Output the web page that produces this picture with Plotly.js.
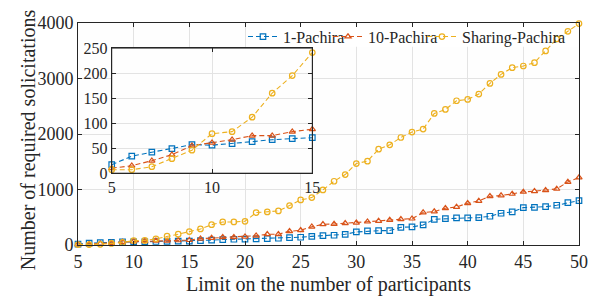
<!DOCTYPE html>
<html>
<head>
<meta charset="utf-8">
<script src="https://cdn.plot.ly/plotly-3.0.1.min.js"></script>
<style>
  html, body { margin: 0; padding: 0; background: #ffffff; }
  #chart { width: 603px; height: 299px; }
</style>
</head>
<body>
<div id="chart"></div>
<script>
// ---- data ----
const participants = [5,6,7,8,9,10,11,12,13,14,15,16,17,18,19,20,21,22,23,24,25,26,27,28,29,30,
                      31,32,33,34,35,36,37,38,39,40,41,42,43,44,45,46,47,48,49,50];

const onePachira = [17,34,42,49,57,56,59,63,67,69,71,78,88,98,104,106,110,115,122,132,140,156,168,176,193,235,
                    253,258,260,319,325,361,463,475,487,489,493,518,572,596,673,679,691,716,764,800];

const tenPachira = [10,15,25,37,55,61,67,75,75,83,88,114,126,139,140,150,168,193,195,247,265,330,373,379,391,400,
                    421,433,451,463,475,584,602,662,686,752,794,879,891,921,957,969,987,1011,1137,1215];

const sharingPachira = [7,7,13,29,46,79,83,112,160,195,241,289,367,415,415,427,584,596,614,710,812,854,993,1149,1269,1468,
                        1511,1727,1805,1937,2034,2088,2370,2442,2599,2623,2720,2912,3074,3195,3225,3285,3496,3713,3850,3989];

const seriesNames = ['1-Pachira', '10-Pachira', 'Sharing-Pachira'];
const mainXTicks = [5,10,15,20,25,30,35,40,45,50];
const mainYTicks = [0,1000,2000,3000,4000];
const insetXTicks = [5,10,15];
const insetYTicks = [0,50,100,150,200,250];
const insetLimit = 15;
const xTitle = 'Limit on the number of participants';
const yTitle = 'Number of required solicitations';

// ---- styling ----
const colors = ['#0072BD', '#D95319', '#EDB120'];
const symbols = ['square-open', 'triangle-up-open', 'circle-open'];
const legendIds = ['legend', 'legend2', 'legend3'];
const legendX = [0.3293, 0.499, 0.6866];
const FONT = '"Liberation Serif", "DejaVu Serif", serif';
const TXT = '#262626';
const insetDomX = [0.0673, 0.4677];
const insetDomY = [0.3234, 0.887];

const allSeries = [onePachira, tenPachira, sharingPachira];
const nInset = participants.filter(v => v <= insetLimit).length;

const traces = [];
allSeries.forEach((ys, i) => {
  traces.push({
    type: 'scatter', mode: 'lines+markers',
    x: participants, y: ys, name: seriesNames[i], legend: legendIds[i],
    xaxis: 'x', yaxis: 'y', cliponaxis: false,
    line: {color: colors[i], width: 1.1, dash: '5px,3px'},
    marker: {symbol: symbols[i], size: 5.5, color: colors[i], line: {color: colors[i], width: 1.2}}
  });
});
allSeries.forEach((ys, i) => {
  traces.push({
    type: 'scatter', mode: 'lines+markers',
    x: participants.slice(0, nInset), y: ys.slice(0, nInset), name: seriesNames[i],
    xaxis: 'x2', yaxis: 'y2', cliponaxis: false, showlegend: false,
    line: {color: colors[i], width: 1.1, dash: '5px,3px'},
    marker: {symbol: symbols[i], size: 5.5, color: colors[i], line: {color: colors[i], width: 1.2}}
  });
});

const axCommon = {
  showline: true, linecolor: TXT, linewidth: 1, mirror: 'ticks',
  ticks: 'inside', ticklen: 4, tickcolor: TXT, tickwidth: 1,
  showgrid: true, gridcolor: '#e3e3e3', gridwidth: 1, zeroline: false,
  tickfont: {family: FONT, size: 18, color: TXT}
};

function legendAt(x) {
  return {
    orientation: 'h', x: x, xanchor: 'left', y: 1.015, yanchor: 'top',
    bgcolor: 'rgba(255,255,255,0)', borderwidth: 0,
    font: {family: FONT, size: 16, color: TXT}, itemwidth: 30
  };
}

const layout = {
  width: 603, height: 299,
  margin: {l: 78, r: 24, t: 23, b: 54},
  paper_bgcolor: '#ffffff', plot_bgcolor: '#fefefe',
  font: {family: FONT, color: TXT},
  showlegend: true,
  legend: legendAt(legendX[0]),
  legend2: legendAt(legendX[1]),
  legend3: legendAt(legendX[2]),
  xaxis: Object.assign({}, axCommon, {
    range: [5, 50], tickvals: mainXTicks, domain: [0, 1],
    title: {text: xTitle, font: {family: FONT, size: 20, color: TXT}, standoff: 6}
  }),
  yaxis: Object.assign({}, axCommon, {
    range: [0, 4000], tickvals: mainYTicks, domain: [0, 1]
  }),
  xaxis2: Object.assign({}, axCommon, {
    anchor: 'y2', range: [5, 15], tickvals: insetXTicks, domain: insetDomX,
    tickfont: {family: FONT, size: 16, color: TXT}
  }),
  yaxis2: Object.assign({}, axCommon, {
    anchor: 'x2', range: [0, 250], tickvals: insetYTicks, domain: insetDomY,
    tickfont: {family: FONT, size: 16, color: TXT}
  }),
  annotations: [{
    text: yTitle, textangle: -90, showarrow: false,
    xref: 'paper', yref: 'paper', x: -0.1, y: 0.476, xanchor: 'center', yanchor: 'middle',
    font: {family: FONT, size: 20, color: TXT}
  }],
  shapes: [
    { // inset backdrop: hides the main grid behind the inset
      type: 'rect', xref: 'x domain', yref: 'y domain',
      x0: insetDomX[0], x1: insetDomX[1], y0: insetDomY[0], y1: insetDomY[1],
      line: {width: 0}, fillcolor: '#ffffff', layer: 'below'
    },
    { // inset frame
      type: 'rect', xref: 'paper', yref: 'paper',
      x0: insetDomX[0], x1: insetDomX[1], y0: insetDomY[0], y1: insetDomY[1],
      line: {color: TXT, width: 1}, fillcolor: 'rgba(0,0,0,0)', layer: 'above'
    },
    { // legend box: hides gridlines, stays under the data
      type: 'rect', xref: 'x', yref: 'y', x0: 21.5, x1: 49.9, y0: 3574, y1: 3953,
      line: {width: 0}, fillcolor: '#ffffff', layer: 'between'
    }
  ]
};

Plotly.newPlot('chart', traces, layout, {staticPlot: true, displayModeBar: false});
</script>
</body>
</html>
